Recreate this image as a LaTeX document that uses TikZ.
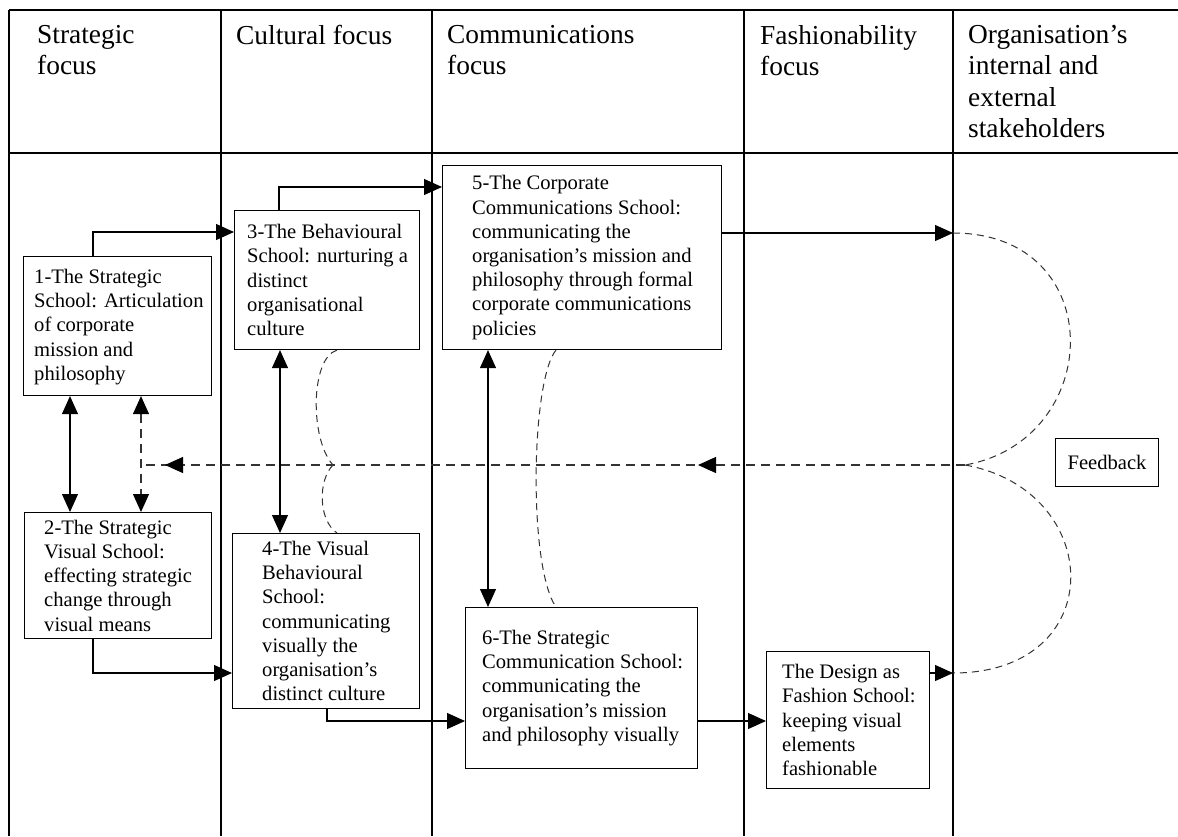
\documentclass[tikz,border=0pt]{standalone}
\usepackage{fontspec}
\setmainfont{Liberation Serif}
\usetikzlibrary{arrows.meta,decorations.markings,calc}
\newcommand\schoolfont{\fontsize{20.6pt}{24.2pt}\selectfont}
\newcommand\headfont{\fontsize{27.4pt}{31.5pt}\selectfont}
\begin{document}
\begin{tikzpicture}[x=1pt,y=-1pt,
  rule/.style={line width=1.1pt},
  schoolbox/.style={draw,line width=1.1pt,anchor=north west,inner sep=0pt},
  schooltext/.style={anchor=west,align=left,inner sep=0pt,font=\schoolfont},
  headtext/.style={anchor=north west,align=left,inner sep=0pt,font=\headfont},
  arr/.style={line width=1.1pt,-{Triangle[length=18pt,width=16pt]}},
  darr/.style={line width=1.1pt,{Triangle[length=18pt,width=16pt]}-{Triangle[length=18pt,width=16pt]}},
  fbline/.style={line width=1.1pt,black!80,dash pattern=on 9pt off 6pt},
  arcdash/.style={line width=1pt,black!80,dash pattern=on 7pt off 5pt},
]
% page and background
\useasboundingbox (0,0) rectangle (1178,836);
\fill[white] (0,0) rectangle (1178,836);

% table frame: top rule, header rule and column rules
\draw[rule] (9,10) -- (1178,10);
\draw[rule] (9,153) -- (1178,153);
\foreach \cx in {9,221,432,744,953}
  \draw[rule] (\cx,10) -- (\cx,836);

% column headings
\node[headtext] (h1) at (37,25) {Strategic\\focus};
\node[headtext] (h2) at (236,25) {Cultural focus};
\node[headtext] (h3) at (447,25) {Communications\\focus};
\node[headtext] (h4) at (760,25) {Fashionability\\focus};
\node[headtext] (h5) at (968,25) {Organisation’s\\internal and\\external\\stakeholders};

% the schools
\node[schoolbox,minimum width=188pt,minimum height=139pt] (b1) at (23,256) {};
\node[schooltext] (t1) at ([xshift=11pt,yshift=-1pt]b1.west) {1-The Strategic\\School: Articulation\\of corporate\\mission and\\philosophy};

\node[schoolbox,minimum width=187pt,minimum height=126pt] (b2) at (24,512) {};
\node[schooltext] (t2) at ([xshift=20pt]b2.west) {2-The Strategic\\Visual School:\\effecting strategic\\change through\\visual means};

\node[schoolbox,minimum width=185pt,minimum height=139pt] (b3) at (234,210) {};
\node[schooltext] (t3) at ([xshift=13pt]b3.west) {3-The Behavioural\\School: nurturing a\\distinct\\organisational\\culture};

\node[schoolbox,minimum width=187pt,minimum height=175pt] (b4) at (232,533) {};
\node[schooltext] (t4) at ([xshift=30pt]b4.west) {4-The Visual\\Behavioural\\School:\\communicating\\visually the\\organisation’s\\distinct culture};

\node[schoolbox,minimum width=279pt,minimum height=184pt] (b5) at (442,165) {};
\node[schooltext] (t5) at ([xshift=30pt]b5.west) {5-The Corporate\\Communications School:\\communicating the\\organisation’s mission and\\philosophy through formal\\corporate communications\\policies};

\node[schoolbox,minimum width=232pt,minimum height=161pt] (b6) at (465,607) {};
\node[schooltext] (t6) at ([xshift=17pt]b6.west) {6-The Strategic\\Communication School:\\communicating the\\organisation’s mission\\and philosophy visually};

\node[schoolbox,minimum width=163pt,minimum height=137pt] (b7) at (766,651) {};
\node[schooltext] (t7) at ([xshift=16pt]b7.west) {The Design as\\Fashion School:\\keeping visual\\elements\\fashionable};

\node[schoolbox,minimum width=103pt,minimum height=48pt,font=\schoolfont] (fb) at (1055,438) {Feedback};

% points on the stakeholder rule and on the feedback loop
\coordinate (s1) at (953,233);
\coordinate (s2) at (953,673);
\coordinate (cusp) at (965,465);
\coordinate (fbL) at (141,465);
\coordinate (kink) at (333,465);

% forward flows
\draw[arr] ([xshift=70pt]b1.north west) |- ([yshift=-22pt]b3.north west);
\draw[arr] ([xshift=45pt]b3.north west) |- ([yshift=-22pt]b5.north west);
\draw[arr] ([xshift=69pt]b2.south west) |- ([yshift=-140pt]b4.north west);
\draw[arr] ([xshift=95pt]b4.south west) |- ([yshift=-114pt]b6.north west);
\draw[arr] ([yshift=-114pt]b6.north east) -- ([yshift=-70pt]b7.north west);
\draw[arr] ([yshift=-68pt]b5.north east) -- (s1);
\draw[arr] ([yshift=-22pt]b7.north east) -- (s2);

% two-way links inside each focus
\draw[darr] ([xshift=47pt]b1.south west) -- ([xshift=46pt]b2.north west);
\draw[darr] ([xshift=46pt]b3.south west) -- ([xshift=48pt]b4.north west);
\draw[darr] ([xshift=46pt]b5.south west) -- ([xshift=23pt]b6.north west);
\draw[fbline,{Triangle[length=18pt,width=16pt,color=black]}-{Triangle[length=18pt,width=16pt,color=black]}]
  ([xshift=118pt]b1.south west) -- ([xshift=117pt]b2.north west);

% feedback loop from the stakeholders
\draw[arcdash] (s1) .. controls +(157,0) and +(140,-25) .. (cusp);
\draw[arcdash] (cusp) .. controls +(140,25) and +(158,0) .. (s2);
\draw[fbline,postaction={decorate},decoration={markings,
    mark=at position 267pt with {\arrow[black,solid]{Triangle[length=18pt,width=16pt]}},
    mark=at position 800pt with {\arrow[black,solid]{Triangle[length=18pt,width=16pt]}}}]
  (cusp) -- (fbL);

% dashed links between the upper and lower schools
\draw[arcdash] ([xshift=103pt]b3.south west) .. controls +(-27,8) and +(-23,-25) .. (kink);
\draw[arcdash] (kink) .. controls +(-15,15) and +(-19,-13) .. ([xshift=105pt]b4.north west);
\draw[arcdash] ([xshift=114pt]b5.south west) .. controls +(-25,30) and +(-28,-40) .. ([xshift=91pt]b6.north west);
\end{tikzpicture}
\end{document}
